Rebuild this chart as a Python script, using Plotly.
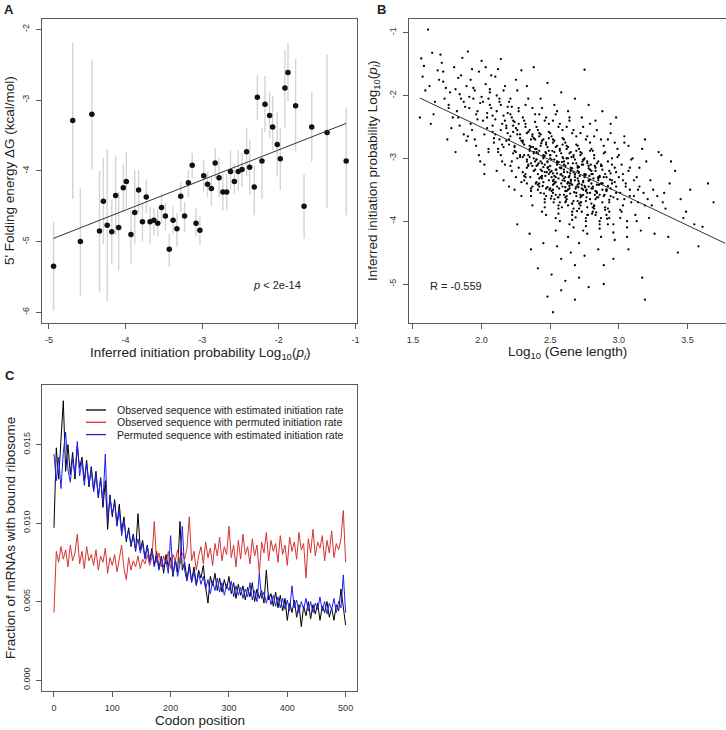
import plotly.graph_objects as go
import numpy as np

FONT = "Liberation Sans, Arial, Helvetica, sans-serif"

# ---------------- Panel A data ----------------
a_log_pi = [-4.94, -4.69, -4.59, -4.44, -4.34, -4.29, -4.24, -4.18, -4.13, -4.09,
            -4.03, -3.99, -3.93, -3.88, -3.83, -3.78, -3.73, -3.68, -3.63, -3.58,
            -3.53, -3.48, -3.43, -3.38, -3.33, -3.28, -3.23, -3.18, -3.13, -3.08,
            -3.03, -2.98, -2.93, -2.88, -2.83, -2.78, -2.73, -2.68, -2.63, -2.58,
            -2.53, -2.48, -2.42, -2.38, -2.32, -2.28, -2.22, -2.18, -2.12, -2.08,
            -2.02, -1.98, -1.92, -1.88, -1.78, -1.67, -1.57, -1.37, -1.12]
a_dg = [-5.35, -3.29, -5.00, -3.20, -4.85, -4.43, -4.77, -4.86, -4.35, -4.80,
        -4.24, -4.15, -4.90, -4.59, -4.27, -4.72, -4.37, -4.72, -4.70, -4.74,
        -4.52, -4.64, -5.11, -4.70, -4.82, -4.36, -4.64, -4.17, -3.92, -4.74,
        -4.84, -4.07, -4.19, -4.25, -3.89, -4.10, -4.30, -4.30, -4.01, -4.15,
        -4.01, -3.98, -3.73, -3.95, -4.23, -2.96, -3.86, -3.06, -3.22, -3.38,
        -3.63, -3.83, -2.83, -2.61, -3.08, -4.50, -3.38, -3.46, -3.86]
a_lo = [-5.98, -4.40, -5.77, -3.98, -5.71, -5.04, -5.84, -5.32, -4.91, -5.41,
        -4.58, -4.53, -5.32, -5.04, -4.60, -5.00, -4.60, -5.03, -4.91, -4.93,
        -4.74, -4.84, -5.36, -4.89, -5.07, -4.58, -4.86, -4.37, -4.11, -4.93,
        -5.05, -4.30, -4.37, -4.49, -4.11, -4.37, -4.56, -4.56, -4.27, -4.32,
        -4.29, -4.23, -4.08, -4.34, -4.63, -3.28, -4.40, -3.45, -3.54, -3.71,
        -4.08, -4.27, -3.40, -3.02, -3.73, -4.96, -3.87, -4.53, -4.63]
a_hi = [-4.72, -2.19, -4.24, -2.43, -4.00, -3.82, -3.70, -4.41, -3.78, -4.30,
        -3.91, -3.73, -4.56, -3.99, -3.99, -4.46, -4.12, -4.51, -4.53, -4.53,
        -4.32, -4.46, -4.89, -4.51, -4.60, -4.16, -4.44, -3.99, -3.75, -4.53,
        -4.63, -3.85, -4.01, -4.08, -3.68, -3.82, -4.04, -4.04, -3.71, -3.90,
        -3.71, -3.75, -3.40, -3.56, -3.92, -2.65, -3.39, -2.66, -2.88, -2.94,
        -3.17, -3.39, -2.29, -2.19, -2.42, -4.05, -2.88, -2.36, -3.10]
a_fit_slope = 0.4255
a_fit_intercept = -2.853
a_xticks = [-5, -4, -3, -2, -1]
a_xticklabels = ["-5", "-4", "-3", "-2", "-1"]
a_yticks = [-6, -5, -4, -3, -2]
a_yticklabels = ["-6", "-5", "-4", "-3", "-2"]

# ---------------- Panel B data (rows = bins of gene length) ----------------
b_log_len_rows = [
    [1.56, 1.58, 1.59, 1.55, 1.57],
    [1.61, 1.64, 1.62, 1.68, 1.66, 1.63, 1.69, 1.65],
    [1.70, 1.72, 1.74, 1.76, 1.78, 1.71, 1.73, 1.75, 1.77, 1.79, 1.72, 1.76],
    [1.80, 1.81, 1.82, 1.83, 1.84, 1.85, 1.86, 1.87, 1.88, 1.89, 1.81, 1.83, 1.85, 1.87, 1.89, 1.84],
    [1.90, 1.91, 1.92, 1.93, 1.94, 1.95, 1.96, 1.97, 1.98, 1.99,
     1.90, 1.92, 1.94, 1.96, 1.98, 1.91, 1.93, 1.95, 1.97, 1.99],
    [2.00, 2.01, 2.02, 2.03, 2.04, 2.05, 2.06, 2.07, 2.08, 2.09,
     2.00, 2.02, 2.04, 2.06, 2.08, 2.01, 2.03, 2.05, 2.07, 2.09, 2.02, 2.04, 2.06, 2.08, 2.05],
    [2.10, 2.11, 2.12, 2.13, 2.14, 2.15, 2.16, 2.17, 2.18, 2.19,
     2.10, 2.12, 2.14, 2.16, 2.18, 2.11, 2.13, 2.15, 2.17, 2.19,
     2.10, 2.12, 2.14, 2.16, 2.18, 2.11, 2.13, 2.15, 2.17, 2.19, 2.14, 2.16],
    [2.20, 2.21, 2.22, 2.23, 2.24, 2.25, 2.26, 2.27, 2.28, 2.29,
     2.20, 2.22, 2.24, 2.26, 2.28, 2.21, 2.23, 2.25, 2.27, 2.29,
     2.20, 2.21, 2.22, 2.23, 2.24, 2.25, 2.26, 2.27, 2.28, 2.29,
     2.21, 2.23, 2.25, 2.27, 2.29, 2.20, 2.22, 2.24, 2.26, 2.28, 2.24, 2.26],
    [2.30, 2.31, 2.32, 2.33, 2.34, 2.35, 2.36, 2.37, 2.38, 2.39,
     2.30, 2.31, 2.32, 2.33, 2.34, 2.35, 2.36, 2.37, 2.38, 2.39,
     2.30, 2.31, 2.32, 2.33, 2.34, 2.35, 2.36, 2.37, 2.38, 2.39,
     2.30, 2.31, 2.32, 2.33, 2.34, 2.35, 2.36, 2.37, 2.38, 2.39,
     2.30, 2.31, 2.32, 2.33, 2.34, 2.35, 2.36, 2.37, 2.38, 2.39, 2.33, 2.36],
    [2.40, 2.41, 2.42, 2.43, 2.44, 2.45, 2.46, 2.47, 2.48, 2.49,
     2.40, 2.41, 2.42, 2.43, 2.44, 2.45, 2.46, 2.47, 2.48, 2.49,
     2.40, 2.41, 2.42, 2.43, 2.44, 2.45, 2.46, 2.47, 2.48, 2.49,
     2.40, 2.41, 2.42, 2.43, 2.44, 2.45, 2.46, 2.47, 2.48, 2.49,
     2.40, 2.41, 2.42, 2.43, 2.44, 2.45, 2.46, 2.47, 2.48, 2.49,
     2.40, 2.41, 2.42, 2.43, 2.44, 2.45, 2.46, 2.47, 2.48, 2.49],
    [2.50, 2.51, 2.52, 2.53, 2.54, 2.55, 2.56, 2.57, 2.58, 2.59,
     2.50, 2.51, 2.52, 2.53, 2.54, 2.55, 2.56, 2.57, 2.58, 2.59,
     2.50, 2.51, 2.52, 2.53, 2.54, 2.55, 2.56, 2.57, 2.58, 2.59,
     2.50, 2.51, 2.52, 2.53, 2.54, 2.55, 2.56, 2.57, 2.58, 2.59,
     2.50, 2.51, 2.52, 2.53, 2.54, 2.55, 2.56, 2.57, 2.58, 2.59,
     2.50, 2.51, 2.52, 2.53, 2.54, 2.55, 2.56, 2.57, 2.58, 2.59,
     2.52, 2.54, 2.55, 2.56, 2.52, 2.58],
    [2.60, 2.61, 2.62, 2.63, 2.64, 2.65, 2.66, 2.67, 2.68, 2.69,
     2.60, 2.61, 2.62, 2.63, 2.64, 2.65, 2.66, 2.67, 2.68, 2.69,
     2.60, 2.61, 2.62, 2.63, 2.64, 2.65, 2.66, 2.67, 2.68, 2.69,
     2.60, 2.61, 2.62, 2.63, 2.64, 2.65, 2.66, 2.67, 2.68, 2.69,
     2.60, 2.61, 2.62, 2.63, 2.64, 2.65, 2.66, 2.67, 2.68, 2.69,
     2.60, 2.61, 2.62, 2.63, 2.64, 2.65, 2.66, 2.67, 2.68, 2.69,
     2.61, 2.63, 2.64, 2.66, 2.75, 2.68, 2.62, 2.65],
    [2.70, 2.71, 2.72, 2.73, 2.74, 2.75, 2.76, 2.77, 2.78, 2.79,
     2.70, 2.71, 2.72, 2.73, 2.74, 2.75, 2.76, 2.77, 2.78, 2.79,
     2.70, 2.71, 2.72, 2.73, 2.74, 2.75, 2.76, 2.77, 2.78, 2.79,
     2.70, 2.71, 2.72, 2.73, 2.74, 2.75, 2.76, 2.77, 2.78, 2.79,
     2.70, 2.71, 2.72, 2.73, 2.74, 2.75, 2.76, 2.77, 2.78, 2.79,
     2.70, 2.71, 2.72, 2.73, 2.74, 2.75, 2.76, 2.77, 2.78, 2.79,
     2.71, 2.74],
    [2.80, 2.81, 2.82, 2.83, 2.84, 2.85, 2.86, 2.87, 2.88, 2.89,
     2.80, 2.81, 2.82, 2.83, 2.84, 2.85, 2.86, 2.87, 2.88, 2.89,
     2.80, 2.81, 2.82, 2.83, 2.84, 2.85, 2.86, 2.87, 2.88, 2.89,
     2.80, 2.81, 2.82, 2.83, 2.84, 2.85, 2.86, 2.87, 2.88, 2.89,
     2.80, 2.81, 2.82, 2.83, 2.84, 2.85, 2.86, 2.87, 2.88, 2.89],
    [2.90, 2.91, 2.92, 2.93, 2.94, 2.95, 2.96, 2.97, 2.98, 2.99,
     2.90, 2.91, 2.92, 2.93, 2.94, 2.95, 2.96, 2.97, 2.98, 2.99,
     2.90, 2.91, 2.92, 2.93, 2.94, 2.95, 2.96, 2.97, 2.98, 2.99,
     2.91, 2.93, 2.94, 2.96, 2.97, 2.98, 2.92, 2.95],
    [3.00, 3.01, 3.02, 3.03, 3.04, 3.05, 3.06, 3.07, 3.08, 3.09,
     3.00, 3.01, 3.02, 3.03, 3.04, 3.05, 3.06, 3.07, 3.08, 3.09,
     3.01, 3.03, 3.04, 3.06, 3.07, 3.08],
    [3.10, 3.11, 3.12, 3.13, 3.14, 3.15, 3.16, 3.17, 3.18, 3.19, 3.11, 3.13, 3.15, 3.17, 3.19, 3.14],
    [3.20, 3.21, 3.22, 3.23, 3.24, 3.25, 3.26, 3.19, 3.28, 3.29],
    [3.31, 3.33, 3.34, 3.36, 3.37, 3.38, 3.32],
    [3.41, 3.43, 3.45, 3.47, 3.49],
    [3.52, 3.55, 3.58],
    [3.61, 3.65, 3.69],
    # extra genes in the dense core
    [2.35, 2.37, 2.39, 2.41, 2.43, 2.45, 2.47, 2.49, 2.51, 2.53,
     2.55, 2.57, 2.59, 2.61, 2.63, 2.65, 2.67, 2.69, 2.71, 2.73,
     2.75, 2.77, 2.79, 2.81, 2.83, 2.85, 2.87, 2.89, 2.91, 2.93],
    [2.36, 2.38, 2.40, 2.42, 2.44, 2.46, 2.48, 2.50, 2.52, 2.54,
     2.56, 2.58, 2.60, 2.62, 2.64, 2.66, 2.68, 2.70, 2.72, 2.74,
     2.76, 2.78, 2.80, 2.82, 2.84, 2.86, 2.88, 2.90, 2.92, 2.94],
    [2.355, 2.375, 2.395, 2.415, 2.435, 2.455, 2.475, 2.495, 2.515, 2.535,
     2.555, 2.575, 2.595, 2.615, 2.635, 2.655, 2.675, 2.695, 2.715, 2.735,
     2.755, 2.775, 2.795, 2.815, 2.835, 2.855, 2.875, 2.895, 2.915, 2.935],
    [2.445, 2.465, 2.485, 2.505, 2.525, 2.545, 2.565, 2.585, 2.605, 2.625,
     2.645, 2.665, 2.685, 2.705, 2.725, 2.745, 2.765, 2.785, 2.805, 2.825,
     2.465, 2.525, 2.585, 2.645, 2.705, 2.765, 2.825, 2.545, 2.625, 2.685],
]
b_log_pi_rows = [
    [-1.41, -1.53, -1.92, -2.35, -1.70],
    [-0.95, -1.32, -1.85, -1.60, -2.10, -2.45, -1.75, -2.30],
    [-1.35, -1.62, -1.88, -2.20, -2.52, -1.48, -2.05, -2.70, -1.95, -2.35, -1.78, -2.15],
    [-1.55, -1.90, -2.25, -1.72, -2.48, -2.05, -1.40, -2.62, -2.18, -1.85, -2.90, -2.35, -1.68, -2.10, -2.72, -1.98],
    [-1.30, -2.20, -1.75, -2.55, -2.05, -1.92, -2.80, -2.38, -1.62, -2.12,
     -2.65, -2.45, -1.88, -2.30, -2.95, -2.02, -1.58, -2.70, -2.25, -3.05],
    [-1.45, -2.10, -2.62, -1.82, -2.35, -2.90, -2.15, -1.68, -2.48, -2.75,
     -2.02, -3.10, -2.28, -1.95, -2.58, -2.40, -1.55, -2.85, -2.20, -2.68, -3.25, -2.52, -1.90, -2.32, -2.05],
    [-1.70, -2.25, -2.85, -2.10, -2.55, -3.05, -1.92, -2.40, -2.72, -2.18,
     -2.62, -1.58, -2.95, -2.32, -2.48, -3.20, -2.05, -2.78, -1.85, -2.60,
     -2.38, -2.90, -2.15, -3.35, -2.52, -2.00, -2.70, -2.45, -3.10, -2.28, -1.42, -2.82],
    [-2.10, -2.65, -3.05, -2.40, -2.88, -3.30, -2.55, -2.20, -2.95, -2.72,
     -3.45, -2.35, -2.80, -1.92, -2.62, -3.12, -2.48, -2.90, -2.25, -3.60,
     -2.70, -2.05, -3.20, -2.58, -2.82, -1.75, -3.00, -2.45, -2.68, -3.38,
     -2.30, -2.92, -2.52, -3.15, -1.60, -2.78, -2.18, -3.50, -2.62, -2.98, -2.42, -4.05],
    [-2.35, -2.95, -3.25, -2.60, -3.10, -2.80, -3.48, -2.20, -2.90, -3.05,
     -2.72, -3.35, -2.50, -3.15, -2.05, -2.88, -3.60, -2.65, -3.00, -2.42,
     -3.22, -2.78, -2.15, -3.40, -2.95, -2.55, -3.08, -3.75, -2.68, -2.30,
     -2.98, -3.28, -2.45, -1.85, -3.12, -2.85, -3.52, -2.62, -2.92, -3.18,
     -2.75, -2.40, -3.30, -3.02, -2.58, -4.20, -2.82, -3.45, -1.55, -2.70, -3.05, -4.45],
    [-2.50, -3.10, -3.40, -2.80, -3.20, -2.95, -3.65, -2.35, -3.05, -3.25,
     -2.85, -3.50, -2.65, -3.30, -2.20, -3.00, -3.78, -2.75, -3.15, -2.58,
     -3.38, -2.92, -2.30, -3.55, -3.08, -2.70, -3.22, -3.90, -2.82, -2.45,
     -3.12, -3.42, -2.60, -2.05, -3.28, -2.98, -3.70, -2.78, -3.06, -3.35,
     -2.90, -2.55, -3.45, -3.18, -2.72, -4.35, -2.96, -3.60, -1.80, -2.88,
     -3.02, -4.75, -3.32, -2.62, -3.85, -3.14, -2.40, -3.48, -5.20, -2.68],
    [-2.60, -3.20, -3.50, -2.90, -3.30, -3.05, -3.75, -2.45, -3.15, -3.35,
     -2.95, -3.60, -2.75, -3.40, -2.30, -3.10, -3.88, -2.85, -3.25, -2.68,
     -3.48, -3.02, -2.40, -3.65, -3.18, -2.80, -3.32, -4.00, -2.92, -2.55,
     -3.22, -3.52, -2.70, -2.15, -3.38, -3.08, -3.80, -2.88, -3.16, -3.45,
     -3.00, -2.65, -3.55, -3.28, -2.82, -4.40, -3.06, -3.70, -1.95, -2.98,
     -3.12, -4.85, -3.42, -2.72, -3.95, -3.24, -2.50, -3.58, -5.10, -2.78,
     -3.36, -4.15, -2.25, -3.62, -5.45, -4.60],
    [-2.70, -3.30, -3.60, -3.00, -3.40, -3.15, -3.85, -2.55, -3.25, -3.45,
     -3.05, -3.70, -2.85, -3.50, -2.40, -3.20, -3.98, -2.95, -3.35, -2.78,
     -3.58, -3.12, -2.50, -3.75, -3.28, -2.90, -3.42, -4.10, -3.02, -2.65,
     -3.32, -3.62, -2.80, -2.25, -3.48, -3.18, -3.90, -2.98, -3.26, -3.55,
     -3.10, -2.75, -3.65, -3.38, -2.92, -4.50, -3.16, -3.80, -2.05, -3.08,
     -3.22, -4.95, -3.52, -2.82, -4.05, -3.34, -2.60, -3.68, -5.25, -2.88,
     -3.46, -4.25, -2.35, -3.72, -1.59, -4.70, -3.00, -3.40],
    [-2.80, -3.40, -3.70, -3.10, -3.50, -3.25, -3.95, -2.65, -3.35, -3.55,
     -3.15, -3.80, -2.95, -3.60, -2.50, -3.30, -4.08, -3.05, -3.45, -2.88,
     -3.68, -3.22, -2.60, -3.85, -3.38, -3.00, -3.52, -4.20, -3.12, -2.75,
     -3.42, -3.72, -2.90, -2.35, -3.58, -3.28, -4.00, -3.08, -3.36, -3.65,
     -3.20, -2.85, -3.75, -3.48, -3.02, -4.55, -3.26, -3.90, -2.15, -3.18,
     -3.32, -4.90, -3.62, -2.92, -4.15, -3.44, -2.70, -3.78, -5.05, -2.45,
     -4.35, -3.10],
    [-2.85, -3.45, -3.75, -3.15, -3.55, -3.30, -4.00, -2.70, -3.40, -3.60,
     -3.20, -3.85, -3.00, -3.65, -2.55, -3.35, -4.12, -3.10, -3.50, -2.92,
     -3.72, -3.25, -2.65, -3.90, -3.42, -3.05, -3.58, -4.25, -3.18, -2.80,
     -3.48, -3.78, -2.95, -2.40, -3.62, -3.32, -4.05, -3.12, -3.40, -4.70,
     -3.25, -2.88, -3.80, -3.52, -3.08, -4.45, -3.30, -3.95, -2.25, -5.00],
    [-2.90, -3.50, -3.80, -3.20, -3.60, -3.35, -4.05, -2.75, -3.45, -3.65,
     -3.25, -3.90, -3.05, -3.70, -2.60, -3.40, -4.18, -3.15, -3.55, -2.98,
     -3.78, -3.30, -2.70, -3.95, -3.48, -3.10, -3.62, -4.30, -3.22, -2.85,
     -3.52, -3.85, -2.45, -4.60, -3.38, -2.35, -4.05, -3.00],
    [-2.95, -3.55, -3.85, -3.25, -3.65, -3.40, -4.10, -2.80, -3.50, -3.70,
     -3.30, -3.95, -3.10, -3.75, -2.65, -3.45, -4.25, -3.20, -3.60, -3.02,
     -3.82, -3.35, -2.75, -4.00, -4.45, -3.15],
    [-3.00, -3.60, -3.90, -3.30, -3.70, -3.45, -4.15, -2.85, -3.55, -3.75, -3.35, -4.00, -3.15, -4.90, -2.70, -3.50],
    [-3.05, -3.65, -3.95, -3.35, -3.75, -3.50, -4.20, -5.25, -3.60, -2.90],
    [-2.95, -3.55, -3.80, -4.25, -3.40, -3.05, -3.70],
    [-3.20, -4.50, -3.65, -3.95, -3.85],
    [-3.50, -4.05, -4.40],
    [-4.09, -3.40, -3.70],
    [-2.98, -3.12, -2.85, -3.25, -3.05, -3.38, -2.92, -3.18, -3.30, -3.02,
     -3.45, -3.15, -3.28, -3.52, -3.08, -3.36, -3.22, -3.60, -3.14, -3.42,
     -3.26, -3.55, -3.34, -3.48, -3.20, -3.62, -3.40, -3.30, -3.50, -3.66],
    [-2.70, -3.20, -3.02, -2.88, -3.32, -3.10, -3.46, -2.95, -3.24, -3.58,
     -3.06, -3.40, -3.18, -3.00, -3.44, -3.72, -3.30, -3.12, -3.58, -3.36,
     -3.68, -3.16, -3.40, -3.76, -3.54, -3.28, -3.70, -3.82, -3.44, -3.24],
    [-3.30, -2.82, -3.40, -3.08, -2.76, -3.56, -3.22, -3.50, -2.88, -3.38,
     -3.62, -3.26, -3.00, -3.68, -3.30, -2.98, -3.54, -3.84, -3.28, -3.05,
     -3.46, -3.90, -3.10, -3.32, -3.86, -3.42, -3.12, -3.58, -3.96, -3.34],
    [-3.44, -2.90, -3.14, -3.64, -3.34, -2.96, -3.48, -3.78, -3.36, -3.22,
     -3.56, -3.08, -3.94, -3.46, -3.70, -3.02, -3.62, -3.28, -3.88, -3.12,
     -3.28, -3.70, -3.06, -3.24, -3.36, -3.50, -3.58, -3.18, -3.40, -3.48],
]
b_fit_slope = -1.04
b_fit_intercept = -0.427
b_r_value = "-0.559"
b_xticks = [1.5, 2.0, 2.5, 3.0, 3.5]
b_xticklabels = ["1.5", "2.0", "2.5", "3.0", "3.5"]
b_yticks = [-5, -4, -3, -2, -1]
b_yticklabels = ["-5", "-4", "-3", "-2", "-1"]

# ---------------- Panel C data (every 4th codon, 0..500) ----------------
codon_pos = list(range(0, 501, 4))
obs_est = [
    0.0097, 0.0148, 0.0128, 0.0152, 0.0178, 0.0133, 0.0150, 0.0131, 0.0145, 0.0128,
    0.0149, 0.0135, 0.0142, 0.0127, 0.0140, 0.0123, 0.0136, 0.0121, 0.0133, 0.0116,
    0.0129, 0.0110, 0.0127, 0.0096, 0.0118, 0.0104, 0.0115, 0.0099, 0.0112, 0.0095,
    0.0104, 0.0088, 0.0097, 0.0085, 0.0093, 0.0082, 0.0106, 0.0083, 0.0089, 0.0078,
    0.0086, 0.0076, 0.0084, 0.0073, 0.0082, 0.0071, 0.0079, 0.0068, 0.0080, 0.0072,
    0.0078, 0.0066, 0.0077, 0.0069, 0.0101, 0.0070, 0.0075, 0.0064, 0.0074, 0.0063,
    0.0072, 0.0061, 0.0070, 0.0065, 0.0073, 0.0059, 0.0049, 0.0066, 0.0060, 0.0068,
    0.0057, 0.0065, 0.0056, 0.0064, 0.0058, 0.0066, 0.0055, 0.0062, 0.0052, 0.0061,
    0.0054, 0.0060, 0.0051, 0.0059, 0.0053, 0.0062, 0.0050, 0.0058, 0.0052, 0.0057,
    0.0049, 0.0070, 0.0051, 0.0055, 0.0047, 0.0056, 0.0046, 0.0054, 0.0044, 0.0052,
    0.0038, 0.0049, 0.0043, 0.0051, 0.0040, 0.0048, 0.0034, 0.0047, 0.0041, 0.0050,
    0.0039, 0.0048, 0.0042, 0.0049, 0.0038, 0.0047, 0.0043, 0.0050, 0.0040, 0.0046,
    0.0038, 0.0048, 0.0044, 0.0058, 0.0045, 0.0035]
obs_perm = [
    0.0043, 0.0082, 0.0075, 0.0085, 0.0077, 0.0083, 0.0072, 0.0086, 0.0076, 0.0081,
    0.0093, 0.0074, 0.0082, 0.0071, 0.0085, 0.0076, 0.0080, 0.0073, 0.0083, 0.0070,
    0.0079, 0.0075, 0.0084, 0.0068, 0.0078, 0.0073, 0.0080, 0.0069, 0.0077, 0.0086,
    0.0071, 0.0064, 0.0078, 0.0070, 0.0076, 0.0072, 0.0079, 0.0071, 0.0077, 0.0074,
    0.0080, 0.0073, 0.0078, 0.0101, 0.0075, 0.0081, 0.0072, 0.0079, 0.0074, 0.0082,
    0.0071, 0.0080, 0.0076, 0.0083, 0.0074, 0.0081, 0.0077, 0.0084, 0.0104, 0.0076,
    0.0082, 0.0070, 0.0079, 0.0085, 0.0074, 0.0088, 0.0078, 0.0084, 0.0073, 0.0087,
    0.0079, 0.0091, 0.0076, 0.0085, 0.0080, 0.0098, 0.0078, 0.0086, 0.0072, 0.0089,
    0.0077, 0.0093, 0.0080, 0.0085, 0.0074, 0.0090, 0.0079, 0.0086, 0.0068, 0.0088,
    0.0081, 0.0094, 0.0076, 0.0089, 0.0082, 0.0087, 0.0075, 0.0092, 0.0080, 0.0086,
    0.0073, 0.0091, 0.0082, 0.0088, 0.0077, 0.0094, 0.0083, 0.0087, 0.0065, 0.0090,
    0.0081, 0.0096, 0.0079, 0.0088, 0.0084, 0.0092, 0.0076, 0.0089, 0.0081, 0.0095,
    0.0078, 0.0087, 0.0083, 0.0090, 0.0108, 0.0075]
perm_est = [
    0.0144, 0.0127, 0.0142, 0.0122, 0.0145, 0.0158, 0.0134, 0.0126, 0.0141, 0.0131,
    0.0152, 0.0130, 0.0140, 0.0124, 0.0138, 0.0125, 0.0134, 0.0120, 0.0131, 0.0117,
    0.0128, 0.0113, 0.0144, 0.0102, 0.0116, 0.0106, 0.0113, 0.0098, 0.0108, 0.0092,
    0.0101, 0.0090, 0.0095, 0.0086, 0.0092, 0.0083, 0.0090, 0.0081, 0.0087, 0.0077,
    0.0085, 0.0075, 0.0082, 0.0072, 0.0079, 0.0070, 0.0078, 0.0072, 0.0076, 0.0068,
    0.0092, 0.0067, 0.0076, 0.0066, 0.0074, 0.0098, 0.0070, 0.0063, 0.0072, 0.0062,
    0.0069, 0.0060, 0.0068, 0.0061, 0.0066, 0.0058, 0.0064, 0.0055, 0.0063, 0.0057,
    0.0065, 0.0056, 0.0062, 0.0054, 0.0061, 0.0057, 0.0063, 0.0053, 0.0060, 0.0054,
    0.0059, 0.0052, 0.0058, 0.0053, 0.0062, 0.0051, 0.0057, 0.0050, 0.0068, 0.0052,
    0.0056, 0.0049, 0.0055, 0.0048, 0.0054, 0.0047, 0.0053, 0.0046, 0.0052, 0.0045,
    0.0051, 0.0044, 0.0060, 0.0046, 0.0051, 0.0043, 0.0050, 0.0045, 0.0052, 0.0044,
    0.0050, 0.0043, 0.0049, 0.0045, 0.0053, 0.0044, 0.0050, 0.0042, 0.0049, 0.0045,
    0.0052, 0.0043, 0.0050, 0.0046, 0.0067, 0.0043]
c_series_names = ["Observed sequence with estimated initiation rate",
                  "Observed sequence with permuted initiation rate",
                  "Permuted sequence with estimated initiation rate"]
c_colors = ["#000000", "#d63333", "#2020f0"]
c_xticks = [0, 100, 200, 300, 400, 500]
c_xticklabels = ["0", "100", "200", "300", "400", "500"]
c_yticks = [0.0, 0.005, 0.010, 0.015]
c_yticklabels = ["0.000", "0.005", "0.010", "0.015"]

# ---------------- layout helpers ----------------
W, H = 726, 730
def fx(p):
    return p / W
def fy(p):
    return 1 - p / H

AXC = "#5a5a5a"
def axis(domain, rng, tv, tt, angle=0, anchor=None):
    d = dict(domain=domain, range=rng, tickmode="array", tickvals=tv, ticktext=tt,
             showline=True, mirror=True, linecolor=AXC, linewidth=1,
             ticks="outside", ticklen=5, tickcolor=AXC, tickwidth=1,
             showgrid=False, zeroline=False, fixedrange=True, automargin=False,
             tickfont=dict(family=FONT, size=9, color="#333333"),
             tickangle=angle, ticklabelstandoff=3)
    if anchor:
        d["anchor"] = anchor
    return d

fig = go.Figure()

# Panel A
a_x = np.array(a_log_pi); a_y = np.array(a_dg)
fig.add_trace(go.Scatter(
    x=a_x, y=a_y, mode="markers", xaxis="x", yaxis="y",
    marker=dict(size=5.5, color="#111111"),
    error_y=dict(type="data", symmetric=False,
                 array=np.array(a_hi) - a_y, arrayminus=a_y - np.array(a_lo),
                 color="#d4d4d4", thickness=1.4, width=0)))
a_line_x = np.array([a_x.min(), a_x.max()])
fig.add_trace(go.Scatter(x=a_line_x, y=a_fit_intercept + a_fit_slope * a_line_x,
                         mode="lines", xaxis="x", yaxis="y",
                         line=dict(color="#333333", width=1)))

# Panel B
b_x, b_y = [], []
for xs, ys in zip(b_log_len_rows, b_log_pi_rows):
    n = min(len(xs), len(ys))
    b_x.extend(xs[:n]); b_y.extend(ys[:n])
b_x = np.array(b_x); b_y = np.array(b_y)
b_xrange = [1.471, 3.777]
fig.add_trace(go.Scatter(x=b_x, y=b_y, mode="markers", xaxis="x2", yaxis="y2",
                         marker=dict(size=2.3, color="#000000")))
b_line_x = np.array([b_x.min(), b_xrange[1]])
fig.add_trace(go.Scatter(x=b_line_x, y=b_fit_intercept + b_fit_slope * b_line_x,
                         mode="lines", xaxis="x2", yaxis="y2",
                         line=dict(color="#333333", width=1)))

# Panel C
for vals, col in zip([obs_est, obs_perm, perm_est], c_colors):
    fig.add_trace(go.Scatter(x=codon_pos, y=vals, mode="lines", xaxis="x3", yaxis="y3",
                             line=dict(color=col, width=1)))

annotations = []
def text(x, y, s, size, angle=0, anchor="center", color="#222222"):
    annotations.append(dict(x=fx(x), y=fy(y), xref="paper", yref="paper", text=s,
                            showarrow=False, textangle=angle, xanchor=anchor, yanchor="middle",
                            font=dict(family=FONT, size=size, color=color)))

# panel letters
text(9, 9, "<b>A</b>", 13)
text(381, 9, "<b>B</b>", 13)
text(9.5, 375, "<b>C</b>", 13)
# axis titles
text(200, 353.5, "Inferred initiation probability Log<sub>10</sub>(<i>p<sub>i</sub></i>)", 13.5)
text(9, 171, "5' Folding energy \u0394G (kcal/mol)", 13.5, angle=-90)
text(567, 352, "Log<sub>10</sub> (Gene length)", 13.5)
text(373, 171, "Inferred initiation probability Log<sub>10</sub>(<i>p<sub>i</sub></i>)", 13.5, angle=-90)
text(200, 720, "Codon position", 13.5)
text(10, 538, "Fraction of mRNAs with bound ribosome", 13.5, angle=-90)
# in-plot texts
text(277, 285, "<i>p</i> &lt; 2e-14", 11)
text(428, 286, "R = " + b_r_value, 11, anchor="left")
# legend for C
shapes = []
for i, (name, col) in enumerate(zip(c_series_names, c_colors)):
    yy = 410 + i * 12.3
    shapes.append(dict(type="line", xref="paper", yref="paper",
                       x0=fx(86), x1=fx(106), y0=fy(yy), y1=fy(yy),
                       line=dict(color=col, width=1.3)))
    text(115, yy, name, 10.5, anchor="left")

fig.update_layout(
    width=W, height=H, margin=dict(l=0, r=0, t=0, b=0, pad=0, autoexpand=False),
    paper_bgcolor="white", plot_bgcolor="white", showlegend=False,
    xaxis=axis([fx(42), fx(357.3)], [-5.091, -0.975], a_xticks, a_xticklabels, anchor="y"),
    yaxis=axis([fy(323.3), fy(19)], [-6.156, -1.854], a_yticks, a_yticklabels, angle=-90, anchor="x"),
    xaxis2=axis([fx(409), fx(725.5)], b_xrange, b_xticks, b_xticklabels, anchor="y2"),
    yaxis2=axis([fy(322.7), fy(19)], [-5.616, -0.782], b_yticks, b_yticklabels, angle=-90, anchor="x2"),
    xaxis3=axis([fx(42.3), fx(357.3)], [-20, 520], c_xticks, c_xticklabels, anchor="y3"),
    yaxis3=axis([fy(691), fy(385)], [-0.0007, 0.0188], c_yticks, c_yticklabels, angle=-90, anchor="x3"),
    annotations=annotations, shapes=shapes,
)

# remove the browser's default 8px page margin so the figure sits at the page origin
fig.write_html("out.html", config={"displayModeBar": False},
               post_script="document.body.style.margin='0px';document.body.style.overflow='hidden';")
